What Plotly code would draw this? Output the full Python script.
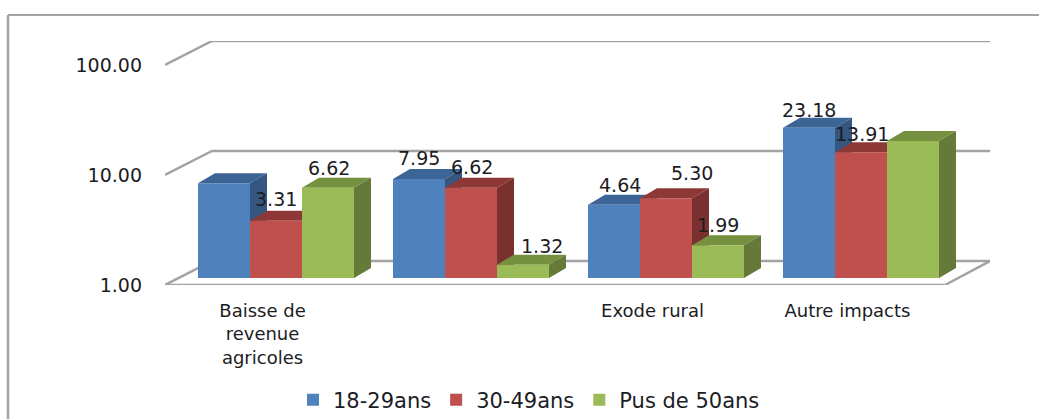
import numpy as np
import plotly.graph_objects as go

categories = ["Baisse de<br>revenue<br>agricoles", "", "Exode rural", "Autre impacts"]
series_names = ["18-29ans", "30-49ans", "Pus de 50ans"]
values_18_29 = [7.28, 7.95, 4.64, 23.18]
values_30_49 = [3.31, 6.62, 5.30, 13.91]
values_50 = [6.62, 1.32, 1.99, 17.6]
labels_18_29 = [None, "7.95", "4.64", "23.18"]
labels_30_49 = ["3.31", "6.62", "5.30", "13.91"]
labels_50 = ["6.62", "1.32", "1.99", None]
tick_values = [1, 10, 100]

W, H = 1039, 419
L, R, T, B = 165, 990, 41, 285          # plot box in pixels
PX_X, PX_DEC = 195.0, 110.0             # pixels per category / per decade
x_max = (R - L) / PX_X
dec_total = (B - T) / PX_DEC
BAR_LIFT = 7
bar_w = 52 / PX_X
bar_start = 33 / PX_X
side_dx = 17 / PX_X
side_k = 10 ** (10 / PX_DEC)
wall_dx = 47 / PX_X
wall_k = 10 ** (24 / PX_DEC)
floor_end = 780 / PX_X

front = ["#4f81bd", "#c0504d", "#9bbb59"]
top = ["#3c6494", "#8e3836", "#75903f"]
side = ["#34567f", "#7a302e", "#657a38"]
grid = "#a3a3a3"
ink = "#1c1c24"
FS = 19
FONT = "DejaVu Sans"

series = [values_18_29, values_30_49, values_50]
labels = [labels_18_29, labels_30_49, labels_50]
x_nudge = [[0, 0, 6, 0], [0, 1, 26, 1], [1, 19, 0, 0]]
y_nudge = [[0, 21, 20, 18], [22, 21, 25, 18], [20, 19, 20, 0]]

fig = go.Figure()

# back wall and floor
for v in tick_values:
    fig.add_trace(go.Scatter(x=[0, wall_dx, x_max], y=[v, v * wall_k, v * wall_k], mode="lines",
                             line=dict(color=grid, width=2.5), showlegend=False, hoverinfo="skip",
                             cliponaxis=False))
fig.add_trace(go.Scatter(x=[0, floor_end, x_max], y=[1, 1, wall_k], mode="lines",
                         line=dict(color=grid, width=2.5), showlegend=False, hoverinfo="skip",
                         cliponaxis=False))

centers = [i + bar_start for i in range(len(categories))]

# top and side faces, under the fronts
for s, vals in enumerate(series):
    for i, v in enumerate(vals):
        x0 = centers[i] + s * bar_w
        x1 = x0 + bar_w
        fig.add_trace(go.Scatter(x=[x0, x1, x1 + side_dx, x0 + side_dx, x0],
                                 y=[v, v, v * side_k, v * side_k, v],
                                 mode="lines", fill="toself", fillcolor=top[s],
                                 line=dict(width=0, color=top[s]), showlegend=False,
                                 hoverinfo="skip", yaxis="y2", cliponaxis=False))
        fig.add_trace(go.Scatter(x=[x1, x1 + side_dx, x1 + side_dx, x1, x1],
                                 y=[v, v * side_k, side_k, 1, v],
                                 mode="lines", fill="toself", fillcolor=side[s],
                                 line=dict(width=0, color=side[s]), showlegend=False,
                                 hoverinfo="skip", yaxis="y2", cliponaxis=False))

# front faces
for s, vals in enumerate(series):
    fig.add_trace(go.Bar(x=[c + (s + 0.5) * bar_w for c in centers], y=vals, width=bar_w,
                         name=series_names[s], marker=dict(color=front[s], line=dict(width=0)),
                         yaxis="y3"))

annotations = []
for s, vals in enumerate(series):
    for i, v in enumerate(vals):
        if labels[s][i] is None:
            continue
        annotations.append(dict(x=centers[i] + (s + 0.5) * bar_w, y=float(np.log10(v)),
                                xref="x", yref="y3", text=labels[s][i], showarrow=False,
                                xshift=x_nudge[s][i], yshift=y_nudge[s][i],
                                font=dict(family=FONT, size=FS, color=ink)))

# outer chart frame, in page pixels
to_x = lambda p: (p - L) / (R - L)
to_y = lambda p: (B - p) / (B - T)
frame = [
    dict(type="line", xref="paper", yref="paper", x0=to_x(8), x1=to_x(1039), y0=to_y(15), y1=to_y(15),
         line=dict(color=grid, width=2)),
    dict(type="line", xref="paper", yref="paper", x0=to_x(8), x1=to_x(8), y0=to_y(15), y1=to_y(419),
         line=dict(color=grid, width=2.5)),
]

lift = BAR_LIFT / (B - T)
hidden_y = dict(type="log", range=[0, dec_total - BAR_LIFT / PX_DEC], domain=[lift, 1],
                visible=False, anchor="x")
fig.update_layout(
    width=W, height=H, margin=dict(l=L, r=W - R, t=T, b=H - B, autoexpand=False),
    paper_bgcolor="white", plot_bgcolor="rgba(0,0,0,0)",
    font=dict(family=FONT, size=FS, color=ink),
    barmode="overlay", annotations=annotations, shapes=frame,
    xaxis=dict(range=[0, x_max], tickmode="array",
               tickvals=[i + 0.5 for i in range(len(categories))], ticktext=categories,
               tickfont=dict(size=18),
               showgrid=False, zeroline=False, showline=False, ticks="", ticklabelstandoff=13),
    yaxis=dict(type="log", range=[0, dec_total], tickmode="array", tickvals=tick_values,
               tickformat=".2f", showgrid=False, zeroline=False, showline=False, ticks="",
               ticklabelstandoff=22),
    yaxis2=hidden_y,
    yaxis3=hidden_y,
    legend=dict(orientation="h", x=293 / W, xref="container", xanchor="left", y=19 / H, yanchor="middle",
                yref="container", itemwidth=30,
                traceorder="normal", font=dict(family=FONT, size=21, color=ink)),
)

fig.write_html("out.html", config=dict(displayModeBar=False),
               post_script="document.body.style.margin='0';")
